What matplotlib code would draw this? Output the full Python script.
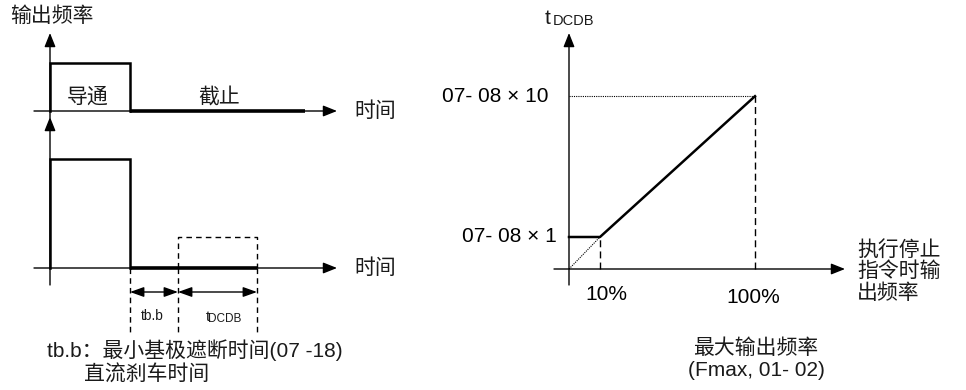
import matplotlib
matplotlib.use("Agg")
import matplotlib.pyplot as plt

plt.rcParams['font.family'] = ['Liberation Sans', 'Noto Sans CJK SC', 'DejaVu Sans']

W, H = 966, 390

# --- data (schematic units) ---
# top-left: output frequency vs time (1 time unit = 10 px)
out_t = [0, 0, 8, 8]
out_f = [0, 1, 1, 0]
off_t = [8, 25.5]
off_f = [0, 0]
# bottom-left: DC brake
brk_t = [0, 0, 8, 8]
brk_f = [0, 1, 1, 0]
low_t = [8, 20.7]
low_f = [0, 0]
t_edge, t_bb, t_dc = 8, 12.8, 20.7
dc_box = 0.284
# right: tDCDB vs output frequency at stop
freq_pos = [0, 1, 6]          # 0, 10%, 100%
freq_lbl = ['10%', '100%']
tdc_pos = [1, 1, 5.4]         # 07-08 x1 ... 07-08 x10
tdc_lbl = ['07- 08 \u00d7 1', '07- 08 \u00d7 10']

fig = plt.figure(figsize=(W / 100, H / 100), dpi=100)
fig.patch.set_facecolor('white')


def panel(x0, x1, ytop, ybot, xlim, ylim):
    ax = fig.add_axes([x0 / W, 1 - ybot / H, (x1 - x0) / W, (ybot - ytop) / H])
    ax.set_xlim(xlim)
    ax.set_ylim(ylim)
    ax.axis('off')
    return ax


def arrow(ax, start, end, style='-|>,head_length=0.7,head_width=0.28', lw=1.0, ms=12):
    ax.annotate('', xy=end, xytext=start,
                arrowprops=dict(arrowstyle=style, lw=lw, color='k',
                                mutation_scale=ms, shrinkA=0, shrinkB=0),
                annotation_clip=False)


def ftext(x, y, s, **kw):
    kw.setdefault('fontsize', 15)
    kw.setdefault('color', '#1a1a1a')
    kw.setdefault('va', 'center')
    fig.text(x / W, 1 - y / H, s, **kw)


# top-left panel: t=(px-50)/10, f=(111-px)/48
ax1 = panel(0, 420, 20, 130, (-5, 37), ((111 - 130) / 48, (111 - 20) / 48))
arrow(ax1, (0, (111 - 118) / 48), (0, (111 - 33) / 48))
arrow(ax1, (-1.6, 0), (28.7, 0))
ax1.plot(out_t, out_f, color='k', lw=1.8, solid_joinstyle='miter')
ax1.plot(off_t, off_f, color='k', lw=2.6, solid_capstyle='butt')

# bottom-left panel: f=(268-px)/109
ax2 = panel(0, 420, 110, 390, (-5, 37), ((268 - 390) / 109, (268 - 110) / 109))
arrow(ax2, (0, (268 - 285) / 109), (0, (268 - 117) / 109))
arrow(ax2, (-1.6, 0), (28.7, 0))
ax2.plot(brk_t, brk_f, color='k', lw=1.8, solid_joinstyle='miter')
ax2.plot(low_t, low_f, color='k', lw=2.6, solid_capstyle='butt')
dash = (0, (4, 3))
ax2.plot([t_bb, t_bb, t_dc, t_dc], [0, dc_box, dc_box, 0], color='k', lw=1, ls=dash)
y_bot = (268 - 332) / 109
for tt in (t_edge, t_bb, t_dc):
    ax2.plot([tt, tt], [0, y_bot], color='k', lw=1, ls=dash)
y_arr = (268 - 292) / 109
dstyle = '<|-|>,head_length=0.7,head_width=0.25'
arrow(ax2, (t_edge, y_arr), (t_bb, y_arr), style=dstyle)
arrow(ax2, (t_bb, y_arr), (t_dc, y_arr), style=dstyle)

# right panel: x=(px-569)/31, y=(269-px)/32
ax3 = panel(420, 966, 0, 390, ((420 - 569) / 31, (966 - 569) / 31), ((269 - 390) / 32, 269 / 32))
arrow(ax3, (0, (269 - 285) / 32), (0, (269 - 33) / 32))
arrow(ax3, ((554 - 569) / 31, 0), ((845 - 569) / 31, 0))
ax3.plot([0, freq_pos[1], freq_pos[2]], tdc_pos, color='k', lw=1.8)
ax3.plot([0, freq_pos[1]], [0, tdc_pos[1]], color='k', lw=0.8, ls=(0, (1, 1)))
ax3.plot([0, freq_pos[2]], [tdc_pos[2], tdc_pos[2]], color='k', lw=0.8, ls=(0, (1, 1)))
ax3.plot([freq_pos[1], freq_pos[1]], [0, tdc_pos[1]], color='k', lw=1, ls=(0, (5, 3)))
ax3.plot([freq_pos[2], freq_pos[2]], [0, tdc_pos[2]], color='k', lw=1, ls=(0, (5, 3)))
for p, lab, dx, dy in zip(freq_pos[1:], freq_lbl, (0.22, -0.05), (-0.8, -0.9)):
    ax3.text(p + dx, dy, lab, fontsize=15, ha='center', va='center')
for p, lab, dx in zip(tdc_pos[1:], tdc_lbl, (-0.38, -0.65)):
    ax3.text(dx, p, lab, fontsize=15, ha='right', va='center')

# texts
ftext(10, 16, '输出频率')
ftext(88, 97, '导通', ha='center')
ftext(219, 97, '截止', ha='center')
ftext(354, 111, '时间')
ftext(354, 268, '时间')
ftext(152, 316, 'tb.b', fontsize=10, ha='center')
ftext(208, 317, 't', fontsize=11, ha='center')
ftext(225, 319, 'DCDB', fontsize=8.5, ha='center')
ftext(47, 350, 'tb.b：最小基极遮断时间(07 -18)')
ftext(84, 375, '直流刹车时间')
ftext(548, 19, 't', fontsize=15, ha='center')
ftext(573, 21, 'DCDB', fontsize=10.5, ha='center')
ftext(857, 250, '执行停止')
ftext(857, 271, '指令时输')
ftext(857, 293, '出频率')
ftext(756, 348, '最大输出频率', ha='center')
ftext(756, 370, '(Fmax, 01- 02)', ha='center')

fig.savefig('out.png', dpi=100)
